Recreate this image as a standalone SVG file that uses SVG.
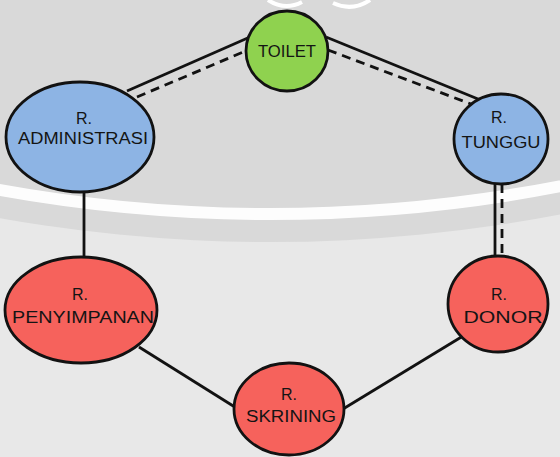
<svg xmlns="http://www.w3.org/2000/svg" width="560" height="457" viewBox="0 0 560 457">
  <style>
    .node { stroke: #121212; stroke-width: 2.8; }
    .green { fill: #8fd24f; }
    .blue { fill: #8db4e4; }
    .red { fill: #f6625c; }
    .label { font-family: "Liberation Sans", Arial, sans-serif; font-size: 16px; fill: #141414; text-anchor: middle; }
    .link { stroke: #121212; stroke-width: 2.8; fill: none; }
    .dash { stroke-dasharray: 9 6; }
  </style>

  <!-- backdrop -->
  <rect x="0" y="0" width="560" height="457" fill="#e8e8e8"/>
  <g id="emblem">
    <circle cx="270" cy="-1302" r="1544" fill="#d9d9d9"/>
    <circle cx="270" cy="-1302" r="1516" fill="none" stroke="#ffffff" stroke-width="12" opacity="0.95"/>
    <path d="M268 0 Q285 11 302 2" fill="none" stroke="#ffffff" stroke-width="4"/>
    <path d="M333 3 Q352 12 370 0" fill="none" stroke="#ffffff" stroke-width="4"/>
  </g>

  <!-- connectors -->
  <g id="connectors">
    <line class="link" x1="127" y1="91" x2="250" y2="37"/>
    <line class="link dash" x1="137" y1="97" x2="248" y2="50"/>
    <line class="link" x1="326" y1="37" x2="478" y2="99"/>
    <line class="link dash" x1="328" y1="50" x2="471" y2="104"/>
    <line class="link" x1="84" y1="190" x2="84" y2="260"/>
    <line class="link" x1="495" y1="180" x2="495" y2="260"/>
    <line class="link dash" x1="502" y1="184" x2="502" y2="256"/>
    <line class="link" x1="139" y1="347" x2="238" y2="409"/>
    <line class="link" x1="343" y1="409" x2="463" y2="336"/>
  </g>

  <!-- rooms -->
  <g id="toilet">
    <ellipse class="node green" cx="287" cy="51" rx="41" ry="40"/>
    <text class="label" x="287" y="57" textLength="58" lengthAdjust="spacingAndGlyphs">TOILET</text>
  </g>
  <g id="r-administrasi">
    <ellipse class="node blue" cx="80" cy="137" rx="74" ry="55"/>
    <text class="label" x="84" y="124">R.</text>
    <text class="label" x="83" y="144" textLength="130" lengthAdjust="spacingAndGlyphs">ADMINISTRASI</text>
  </g>
  <g id="r-tunggu">
    <ellipse class="node blue" cx="501" cy="139" rx="47" ry="45"/>
    <text class="label" x="499" y="123">R.</text>
    <text class="label" x="501" y="148" textLength="79" lengthAdjust="spacingAndGlyphs">TUNGGU</text>
  </g>
  <g id="r-penyimpanan">
    <ellipse class="node red" cx="81" cy="310" rx="76" ry="53"/>
    <text class="label" x="80" y="300">R.</text>
    <text class="label" x="83" y="323" textLength="142" lengthAdjust="spacingAndGlyphs">PENYIMPANAN</text>
  </g>
  <g id="r-donor">
    <ellipse class="node red" cx="498" cy="304" rx="50" ry="48"/>
    <text class="label" x="499" y="300">R.</text>
    <text class="label" x="503" y="323" textLength="79" lengthAdjust="spacingAndGlyphs">DONOR</text>
  </g>
  <g id="r-skrining">
    <ellipse class="node red" cx="289" cy="409" rx="55" ry="46"/>
    <text class="label" x="289" y="400">R.</text>
    <text class="label" x="291" y="422" textLength="90" lengthAdjust="spacingAndGlyphs">SKRINING</text>
  </g>
</svg>
